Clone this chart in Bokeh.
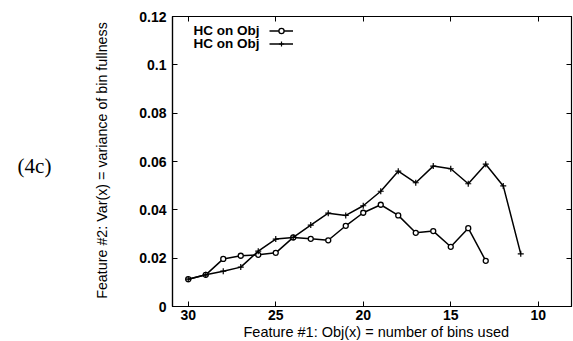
import math
from bokeh.plotting import figure
from bokeh.layouts import row
from bokeh.models import (Range1d, FixedTicker, LinearAxis, Label, Legend, LegendItem, Title)
from bokeh.core.properties import value
from bokeh.embed import file_html
from bokeh.resources import INLINE

# ---- data ----
bins_a = [30, 29, 28, 27, 26, 25, 24, 23, 22, 21, 20, 19, 18, 17, 16, 15, 14, 13]
var_a = [0.0113, 0.0131, 0.0197, 0.0210, 0.0214, 0.0222, 0.0286, 0.0280, 0.0274,
         0.0334, 0.0388, 0.0421, 0.0377, 0.0305, 0.0312, 0.0247, 0.0324, 0.0189]

bins_b = [30, 29, 28, 27, 26, 25, 24, 23, 22, 21, 20, 19, 18, 17, 16, 15, 14, 13, 12, 11]
var_b = [0.0113, 0.0131, 0.0146, 0.0163, 0.0229, 0.0279, 0.0286, 0.0337, 0.0386, 0.0377,
         0.0417, 0.0477, 0.0560, 0.0512, 0.0581, 0.0570, 0.0508, 0.0589, 0.0499, 0.0218]

series_names = ["HC on Obj", "HC on Obj"]
x_ticks = [30, 25, 20, 15, 10]
y_ticks = [0, 0.02, 0.04, 0.06, 0.08, 0.1, 0.12]
y_tick_labels = ["0", "0.02", "0.04", "0.06", "0.08", "0.1", "0.12"]
x_title = "Feature #1:  Obj(x) = number of bins used"
y_title = "Feature #2: Var(x) = variance of bin fullness"
panel_tag = "(4c)"

FONT = "Liberation Sans"
LEFT_W = 120
TOTAL_W, TOTAL_H = 573, 341

# ---- left strip: panel tag and y title (its frame is aligned with the main plot's frame) ----
tag = figure(width=LEFT_W, height=TOTAL_H, output_backend="svg", toolbar_location=None,
             x_range=Range1d(0, LEFT_W), y_range=Range1d(0, 290),
             x_axis_location=None, y_axis_location=None,
             min_border_left=0, min_border_right=0, min_border_top=16, min_border_bottom=35)
tag.grid.visible = False
tag.outline_line_color = None
tag.background_fill_color = "white"
tag.border_fill_color = "white"
tag.add_layout(Label(x=34, y=141, x_units="screen", y_units="screen", text=panel_tag,
                     text_font="Liberation Serif", text_font_size="21px",
                     text_align="center", text_baseline="middle", text_color="black"))
tag.add_layout(Label(x=101, y=146, x_units="screen", y_units="screen", text=y_title,
                     angle=math.pi / 2, text_font=FONT, text_font_size="14.3px",
                     text_align="center", text_baseline="middle", text_color="black"))

# ---- main plot ----
p = figure(width=TOTAL_W - LEFT_W, height=TOTAL_H, output_backend="svg", toolbar_location=None,
           x_range=Range1d(30.9, 8.1), y_range=Range1d(0, 0.12),
           min_border_left=172 - LEFT_W, min_border_right=2, min_border_top=16,
           min_border_bottom=35)
p.background_fill_color = "white"
p.border_fill_color = "white"
p.outline_line_color = "black"
p.outline_line_width = 1.2
p.grid.visible = False

for ax in (p.xaxis[0], p.yaxis[0]):
    ax.major_tick_in = 5
    ax.major_tick_out = 0
    ax.minor_tick_in = 0
    ax.minor_tick_out = 0
    ax.axis_line_color = "black"
    ax.axis_line_width = 1.2
    ax.major_tick_line_color = "black"
    ax.major_label_text_font = FONT
    ax.major_label_text_font_size = "14px"
    ax.major_label_text_font_style = "bold"
    ax.major_label_text_color = "black"

p.xaxis[0].ticker = FixedTicker(ticks=x_ticks)
p.xaxis[0].major_label_standoff = 3

p.yaxis[0].ticker = FixedTicker(ticks=y_ticks)
p.yaxis[0].major_label_overrides = {t: s for t, s in zip(y_ticks, y_tick_labels)}
p.yaxis[0].major_label_standoff = 6

# x title (gnuplot places it slightly right of centre)
p.add_layout(Title(text=x_title, align="left", offset=71, vertical_align="middle",
                   standoff=0, text_font=FONT, text_font_size="14.5px",
                   text_font_style="normal", text_color="black"), "below")

# mirrored tick axes (no labels)
ax_r = LinearAxis(ticker=FixedTicker(ticks=y_ticks), major_tick_in=5, major_tick_out=0,
                  minor_tick_in=0, minor_tick_out=0, major_label_standoff=0,
                  major_label_overrides={t: "" for t in y_ticks}, axis_line_color="black")
ax_t = LinearAxis(ticker=FixedTicker(ticks=x_ticks), major_tick_in=5, major_tick_out=0,
                  minor_tick_in=0, minor_tick_out=0, major_label_standoff=0,
                  major_label_overrides={t: "" for t in x_ticks}, axis_line_color="black")
ax_r.major_label_text_font_size = "1px"
ax_t.major_label_text_font_size = "1px"
p.add_layout(ax_r, "right")
p.add_layout(ax_t, "above")

# series
l1 = p.line(bins_a, var_a, line_color="black", line_width=1.5)
s1 = p.scatter(bins_a, var_a, marker="circle", size=5, fill_color="white",
               line_color="black", line_width=1.3)
l2 = p.line(bins_b, var_b, line_color="black", line_width=1.5)
s2 = p.scatter(bins_b, var_b, marker="cross", size=6, line_color="black", line_width=1.2)

# legend: gnuplot style (text, then sample)
legend = Legend(items=[LegendItem(label=value(""), renderers=[l1, s1]),
                       LegendItem(label=value(""), renderers=[l2, s2])],
                location=(97, 256), orientation="vertical",
                glyph_width=24, glyph_height=13, label_height=13, label_width=0,
                label_standoff=0, spacing=0, padding=0, margin=0,
                border_line_color=None, background_fill_alpha=0)
p.add_layout(legend, "center")
for i, name in enumerate(series_names):
    p.add_layout(Label(x=21, y=276 - 13.3 * i, x_units="screen", y_units="screen",
                       text=name, text_font=FONT, text_font_size="13.5px",
                       text_font_style="bold", text_align="left", text_baseline="middle",
                       text_color="black"))

layout = row(tag, p, spacing=0)
open("out.html", "w").write(file_html(layout, INLINE))
